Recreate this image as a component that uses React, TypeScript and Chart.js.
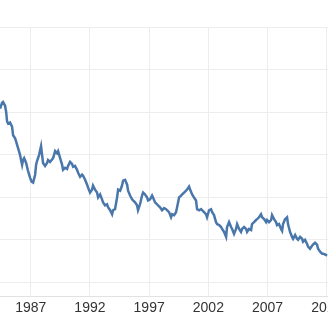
import React, { useEffect, useRef } from "react";
import { Chart, registerables } from "chart.js";

Chart.register(...registerables);

const years: number[] = [
  1984.41, 1984.58, 1984.66, 1984.83, 1984.92, 1985.0, 1985.09, 1985.25, 1985.42, 1985.51,
  1985.68, 1985.76, 1985.93, 1986.1, 1986.18, 1986.27, 1986.35, 1986.44, 1986.61, 1986.77,
  1986.94, 1987.07, 1987.2, 1987.37, 1987.45, 1987.53, 1987.7, 1987.87, 1987.96, 1988.04,
  1988.21, 1988.38, 1988.46, 1988.63, 1988.89, 1989.06, 1989.22, 1989.31, 1989.48, 1989.65,
  1989.73, 1989.9, 1990.07, 1990.15, 1990.32, 1990.49, 1990.58, 1990.74, 1990.91, 1991.0,
  1991.17, 1991.34, 1991.42, 1991.59, 1991.76, 1991.84, 1992.01, 1992.18, 1992.26, 1992.43,
  1992.6, 1992.69, 1992.86, 1993.02, 1993.11, 1993.28, 1993.45, 1993.53, 1993.7, 1993.87,
  1993.95, 1994.12, 1994.29, 1994.38, 1994.55, 1994.71, 1994.8, 1994.97, 1995.14, 1995.22,
  1995.39, 1995.56, 1995.64, 1995.81, 1995.98, 1996.06, 1996.23, 1996.4, 1996.49, 1996.66,
  1996.83, 1996.91, 1997.08, 1997.25, 1997.33, 1997.5, 1997.67, 1997.75, 1997.92, 1998.09,
  1998.26, 1998.43, 1998.51, 1998.68, 1998.85, 1998.94, 1999.11, 1999.27, 1999.36, 1999.53,
  1999.7, 1999.78, 1999.95, 2000.12, 2000.2, 2000.37, 2000.46, 2000.63, 2000.79, 2000.96,
  2001.05, 2001.22, 2001.39, 2001.47, 2001.64, 2001.81, 2001.89, 2002.06, 2002.23, 2002.32,
  2002.48, 2002.65, 2002.74, 2002.91, 2003.08, 2003.16, 2003.33, 2003.5, 2003.58, 2003.75,
  2003.92, 2004.01, 2004.17, 2004.34, 2004.43, 2004.6, 2004.76, 2004.85, 2005.02, 2005.19,
  2005.27, 2005.44, 2005.61, 2005.69, 2005.86, 2006.03, 2006.12, 2006.28, 2006.45, 2006.54,
  2006.71, 2006.88, 2006.96, 2007.13, 2007.3, 2007.38, 2007.55, 2007.72, 2007.8, 2007.97,
  2008.14, 2008.23, 2008.31, 2008.48, 2008.65, 2008.73, 2008.9, 2009.07, 2009.16, 2009.33,
  2009.49, 2009.58, 2009.75, 2009.92, 2010.0, 2010.17, 2010.34, 2010.42, 2010.59, 2010.76,
  2010.84, 2011.01, 2011.18, 2011.27, 2011.44, 2011.61, 2011.69, 2011.86, 2012.03,
];

const rates: number[] = [
  10.16, 10.44, 10.48, 10.3, 10.02, 9.56, 9.46, 9.51, 9.32, 8.91,
  8.77, 8.63, 8.31, 7.98, 7.75, 7.52, 7.75, 7.84, 7.61, 7.24,
  6.92, 6.73, 6.69, 7.06, 7.52, 7.7, 7.98, 8.4, 7.98, 7.61,
  7.47, 7.61, 7.75, 7.66, 7.84, 8.17, 8.07, 8.17, 7.84, 7.52,
  7.29, 7.38, 7.33, 7.47, 7.66, 7.56, 7.43, 7.47, 7.29, 7.15,
  6.96, 7.06, 7.01, 6.82, 6.59, 6.45, 6.22, 6.36, 6.55, 6.36,
  6.22, 5.99, 6.13, 5.9, 5.76, 5.62, 5.67, 5.53, 5.39, 5.2,
  5.39, 5.44, 5.99, 6.36, 6.31, 6.55, 6.78, 6.82, 6.59, 6.31,
  6.08, 5.9, 5.85, 5.76, 5.62, 5.39, 5.67, 6.08, 6.22, 6.13,
  5.99, 5.85, 5.9, 6.08, 5.99, 5.76, 5.67, 5.62, 5.53, 5.39,
  5.49, 5.44, 5.39, 5.3, 5.06, 5.2, 5.16, 5.3, 5.53, 5.99,
  6.08, 6.13, 6.22, 6.31, 6.36, 6.5, 6.36, 6.13, 5.99, 5.85,
  5.44, 5.39, 5.44, 5.39, 5.3, 5.2, 5.06, 5.39, 5.44, 5.3,
  5.16, 4.83, 4.74, 4.69, 4.6, 4.51, 4.37, 4.14, 4.6, 4.83,
  4.6, 4.51, 4.28, 4.51, 4.74, 4.51, 4.37, 4.51, 4.6, 4.51,
  4.37, 4.51, 4.46, 4.74, 4.83, 4.93, 4.97, 5.06, 5.2, 5.06,
  4.97, 4.83, 4.93, 4.83, 4.93, 5.16, 4.97, 4.83, 4.69, 4.74,
  4.51, 4.42, 4.74, 4.97, 5.06, 4.74, 4.37, 4.14, 4.05, 4.23,
  4.05, 4.0, 4.14, 4.05, 3.91, 4.0, 3.81, 3.68, 3.58, 3.72,
  3.77, 3.86, 3.77, 3.58, 3.44, 3.35, 3.35, 3.31, 3.26,
];

const xTickYears: number[] = [1987, 1992, 1997, 2002, 2007, 2012];
const yTickValues: number[] = [2, 4, 6, 8, 10, 12, 14];

export default function App() {
  const canvasRef = useRef<HTMLCanvasElement | null>(null);

  useEffect(() => {
    const canvas = canvasRef.current;
    if (!canvas) return;
    const chart = new Chart(canvas, {
      type: "line",
      data: {
        datasets: [
          {
            data: years.map((x, i) => ({ x, y: rates[i] })),
            borderColor: "#4a77ab",
            borderWidth: 2.5,
            pointRadius: 0,
            tension: 0,
            fill: false,
          },
        ],
      },
      options: {
        animation: false,
        responsive: false,
        maintainAspectRatio: false,
        layout: { padding: { top: 27, left: 0, right: 0, bottom: 0.6 } },
        plugins: {
          legend: { display: false },
          tooltip: { enabled: false },
        },
        scales: {
          x: {
            type: "linear",
            min: 1980.18,
            max: 2016.33,
            afterBuildTicks: (scale: any) => {
              scale.ticks = xTickYears.map((v) => ({ value: v }));
            },
            grid: { color: "#ededed", lineWidth: 1, drawTicks: false },
            border: { display: true, color: "#e2e2e2" },
            ticks: {
              autoSkip: false,
              maxRotation: 0,
              padding: 4,
              color: "#333333",
              font: {
                family: "'Liberation Sans', Arial, Helvetica, sans-serif",
                size: 14,
                lineHeight: 1.1,
              },
              callback: (v: any) => String(v),
            },
          },
          y: {
            type: "linear",
            min: 1.36,
            max: 14,
            afterBuildTicks: (scale: any) => {
              scale.ticks = yTickValues.map((v) => ({ value: v }));
            },
            grid: { color: "#ededed", lineWidth: 1, drawTicks: false },
            border: { display: false },
            ticks: { display: false },
          },
        },
      },
    });
    return () => chart.destroy();
  }, []);

  return (
    <div
      style={{
        position: "absolute",
        left: 0,
        top: 0,
        width: 328,
        height: 320,
        overflow: "hidden",
        background: "#ffffff",
      }}
    >
      <canvas
        ref={canvasRef}
        width={428}
        height={320}
        style={{ position: "absolute", left: -50, top: 0, width: 428, height: 320 }}
      />
    </div>
  );
}
